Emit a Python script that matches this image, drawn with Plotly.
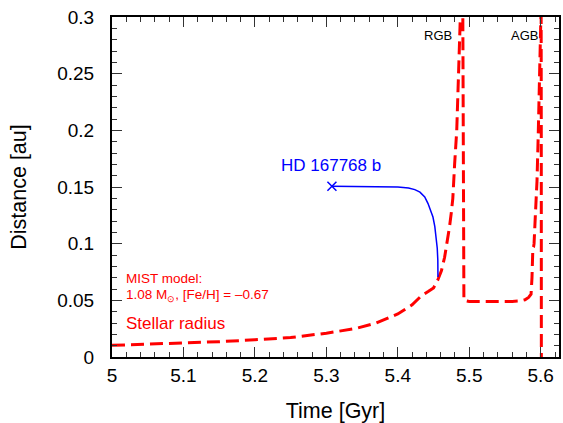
import plotly.graph_objects as go

# Stellar radius (MIST model), time in Gyr, radius in au
t_star = [5.000, 5.050, 5.100, 5.150, 5.200, 5.250, 5.300, 5.340, 5.370, 5.400,
          5.420, 5.433, 5.443, 5.450, 5.456, 5.461, 5.4655, 5.469, 5.4724, 5.475,
          5.477, 5.4795, 5.4825, 5.485, 5.487, 5.4885, 5.490, 5.4910, 5.4912, 5.4918,
          5.4925, 5.500, 5.520, 5.540, 5.560, 5.572, 5.578, 5.583, 5.5865, 5.5878,
          5.5882, 5.5890, 5.5900, 5.5907, 5.5925, 5.5948, 5.5965, 5.5982, 5.5992, 5.6000,
          5.6006, 5.6008, 5.6009]
r_star = [0.0103, 0.0112, 0.0120, 0.0135, 0.0152, 0.0172, 0.0210, 0.0250, 0.0300, 0.0380,
          0.0460, 0.0540, 0.0580, 0.0610, 0.0680, 0.0760, 0.0880, 0.1000, 0.1150, 0.1280,
          0.1400, 0.1700, 0.2000, 0.2500, 0.3000, 0.3500, 0.3500, 0.3000, 0.2000, 0.1000,
          0.0500, 0.0490, 0.0488, 0.0488, 0.0490, 0.0495, 0.0505, 0.0525, 0.0555, 0.0700,
          0.0940, 0.0960, 0.0970, 0.1000, 0.1250, 0.1550, 0.1950, 0.2350, 0.2700, 0.3100,
          0.3100, 0.2000, 0.0000]

# Planet orbital distance
t_planet = [5.3078, 5.360, 5.400, 5.415, 5.4238, 5.431, 5.4377, 5.4423, 5.4462, 5.4492,
            5.4518, 5.4538, 5.4552, 5.4560, 5.4562]
a_planet = [0.1506, 0.1504, 0.1499, 0.1492, 0.1477, 0.1455, 0.1412, 0.1354, 0.1290, 0.1235,
            0.1150, 0.1059, 0.0960, 0.0853, 0.0706]

FONT = "Liberation Sans, Arial, Helvetica, sans-serif"
RED = "#ff0000"
BLUE = "#0000ff"
TICKC = "#333333"

fig = go.Figure()
fig.add_trace(go.Scatter(x=t_star, y=r_star, mode="lines",
                         line=dict(color=RED, width=3, dash="13px,6px"),
                         hoverinfo="skip", showlegend=False))
fig.add_trace(go.Scatter(x=t_planet, y=a_planet, mode="lines",
                         line=dict(color=BLUE, width=1.5),
                         showlegend=False))
fig.add_trace(go.Scatter(x=t_planet[:1], y=a_planet[:1], mode="markers",
                         marker=dict(symbol="x-thin", size=9, line=dict(color=BLUE, width=1.5)),
                         showlegend=False))

axis_common = dict(showline=True, linecolor="black", linewidth=2, mirror="allticks",
                   ticks="inside", ticklen=10, tickwidth=1, tickcolor=TICKC,
                   showgrid=False, zeroline=False,
                   tickfont=dict(family=FONT, size=19, color="black"))

fig.update_xaxes(range=[5.0, 5.6256], tickmode="linear", tick0=5.0, dtick=0.1,
                 minor=dict(dtick=0.02, ticks="inside", ticklen=5, tickcolor=TICKC, tickwidth=1),
                 title=dict(text="Time [Gyr]", font=dict(family=FONT, size=21.5, color="black"),
                            standoff=20),
                 **axis_common)
fig.update_yaxes(range=[0, 0.3], tickmode="linear", tick0=0, dtick=0.05,
                 minor=dict(dtick=0.01, ticks="inside", ticklen=5, tickcolor=TICKC, tickwidth=1),
                 ticklabelstandoff=12,
                 title=dict(text="Distance [au]", font=dict(family=FONT, size=21.5, color="black"),
                            standoff=25),
                 **axis_common)

ann = [
    dict(x=5.307, y=0.169, text="HD 167768 b",
         font=dict(family=FONT, size=17, color=BLUE), xanchor="center", xshift=0),
    dict(x=5.4747, y=0.2838, text="RGB",
         font=dict(family=FONT, size=13, color="black"), xanchor="right", xshift=3),
    dict(x=5.5942, y=0.2838, text="AGB",
         font=dict(family=FONT, size=13, color="black"), xanchor="right", xshift=3),
    dict(x=5.0209, y=0.0694, text="MIST model:",
         font=dict(family=FONT, size=13.5, color=RED), xanchor="left", xshift=-3),
    dict(x=5.0209, y=0.0544, text="1.08 M<sub>⊙</sub>, [Fe/H] = –0.67",
         font=dict(family=FONT, size=13.5, color=RED), xanchor="left", xshift=-3),
    dict(x=5.0209, y=0.0295, text="Stellar radius",
         font=dict(family=FONT, size=17, color=RED), xanchor="left", xshift=-3),
]
for a in ann:
    a["showarrow"] = False
    a["yanchor"] = "middle"

fig.update_layout(annotations=ann,
                  width=563, height=423, margin=dict(l=112, r=2, t=17, b=66),
                  plot_bgcolor="white", paper_bgcolor="white")

fig.write_html("out.html", config={"displayModeBar": False},
               post_script="document.body.style.margin='0';document.body.style.overflow='hidden';")
